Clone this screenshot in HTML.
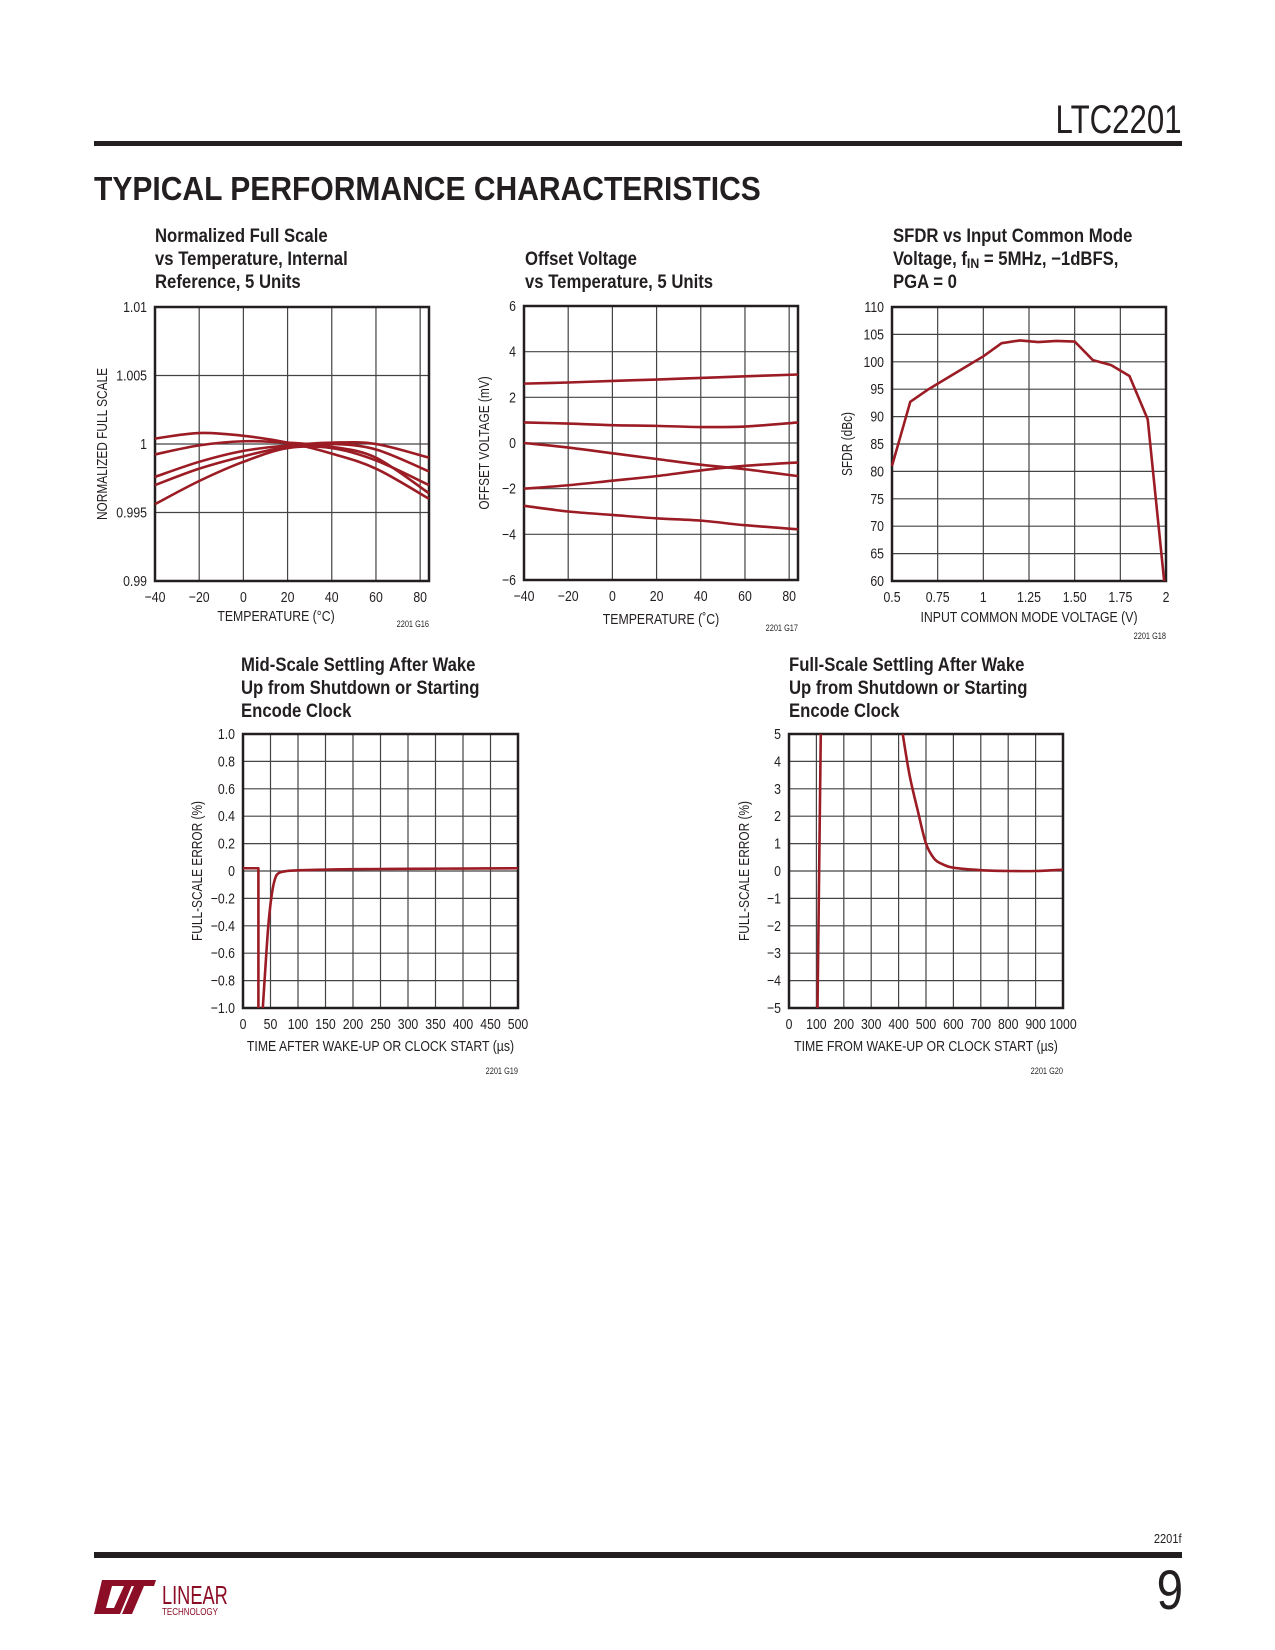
<!DOCTYPE html>
<html><head><meta charset="utf-8">
<style>
body{margin:0;background:#fff;}
#page{position:relative;width:1275px;height:1650px;overflow:hidden;background:#fff;font-family:"Liberation Sans",sans-serif;color:#231f20;}
.abs{position:absolute;}
</style></head>
<body>
<div id="page">
<div class="abs" style="right:93px;top:98px;font-size:40px;font-weight:normal;line-height:44px;transform:scaleX(0.78);transform-origin:right;">LTC2201</div>
<div class="abs" style="left:94px;top:141px;width:1088px;height:5px;background:#231f20;"></div>
<div class="abs" style="left:94px;top:172px;font-size:33px;font-weight:bold;line-height:34px;transform:scaleX(0.91);transform-origin:left;white-space:nowrap;">TYPICAL PERFORMANCE CHARACTERISTICS</div>
<svg id="charts" class="abs" style="left:0;top:0" width="1275" height="1300"></svg>
<div class="abs" style="right:93px;top:1531px;font-size:13px;transform:scaleX(0.85);transform-origin:right;">2201f</div>
<div class="abs" style="left:94px;top:1552px;width:1088px;height:6px;background:#231f20;"></div>
<div class="abs" style="right:92px;top:1560px;font-size:56px;line-height:60px;transform:scaleX(0.85);transform-origin:right;">9</div>
<div class="abs" style="left:94px;top:1578px;width:170px;height:40px;">
 <svg width="170" height="40"><polygon points="8,2 40,2 26,36 0,36" fill="#8b0d26"/><polygon points="18,8 30,8 20,30 12,30" fill="#fff"/><polygon points="34,2 62,2 60,8 50,8 38,36 28,36 40,8 32,8" fill="#8b0d26"/>
 <g transform="translate(68,26) scale(0.7,1)"><text x="0" y="0" font-family="Liberation Sans, sans-serif" font-size="26" fill="#8b0d26">LINEAR</text></g>
 <g transform="translate(68,37) scale(0.8,1)"><text x="0" y="0" font-family="Liberation Sans, sans-serif" font-size="10" fill="#8b0d26">TECHNOLOGY</text></g></svg>
</div>
</div>
<script>
// ---------- Data ----------
const c1X=[-40,-20,0,20,40,60,84];
const c1A=[1.0004,1.0008,1.0006,1.0001,0.9993,0.9982,0.9960];
const c1B=[0.99924,0.9999,1.0002,1.0001,0.9998,0.9990,0.9964];
const c1C=[0.9976,0.9987,0.9995,0.9999,1.0001,1.0000,0.9990];
const c1D=[0.9970,0.9982,0.9991,0.9998,1.0000,0.9996,0.9980];
const c1E=[0.99561,0.9973,0.9987,0.9997,0.9997,0.9988,0.9970];
const c1XTicks=[-40,-20,0,20,40,60,80];
const c1YTicks=[0.99,0.995,1,1.005,1.01];
const c1YLabels=["0.99","0.995","1","1.005","1.01"];

const c2X=[-40,-20,0,20,40,60,84];
const c2A=[2.6,2.65,2.72,2.78,2.85,2.92,3.0];
const c2B=[0.9,0.85,0.78,0.75,0.7,0.72,0.9];
const c2C=[0,-0.2,-0.45,-0.7,-0.95,-1.15,-1.45];
const c2D=[-2.0,-1.85,-1.65,-1.45,-1.2,-1.0,-0.85];
const c2E=[-2.75,-3.0,-3.15,-3.3,-3.4,-3.6,-3.78];
const c2XTicks=[-40,-20,0,20,40,60,80];
const c2YTicks=[-6,-4,-2,0,2,4,6];

const c3X=[0.5,0.6,0.7,0.8,0.9,1.0,1.1,1.2,1.3,1.4,1.5,1.6,1.7,1.8,1.9,1.99];
const c3Y=[81,92.7,95,97,99,101,103.4,103.9,103.6,103.8,103.7,100.3,99.4,97.4,89.5,60];
const c3XTicks=[0.5,0.75,1,1.25,1.5,1.75,2];
const c3XLabels=["0.5","0.75","1","1.25","1.50","1.75","2"];
const c3YTicks=[60,65,70,75,80,85,90,95,100,105,110];

const c4X1=[0,28,28];
const c4Y1=[0.02,0.02,-1];
const c4X2=[36,40,46,52,58,65,80,100,150,200,300,400,500];
const c4Y2=[-1,-0.75,-0.4,-0.18,-0.06,-0.015,0,0.005,0.01,0.013,0.016,0.018,0.02];
const c4XTicks=[0,50,100,150,200,250,300,350,400,450,500];
const c4YTicks=[-1,-0.8,-0.6,-0.4,-0.2,0,0.2,0.4,0.6,0.8,1];
const c4YLabels=["−1.0","−0.8","−0.6","−0.4","−0.2","0","0.2","0.4","0.6","0.8","1.0"];

const c5X1=[104,116];
const c5Y1=[-5,5];
const c5X2=[415,440,470,500,530,560,600,700,800,900,1000];
const c5Y2=[5,3.5,2.2,1,0.45,0.25,0.12,0.03,0,0,0.05];
const c5XTicks=[0,100,200,300,400,500,600,700,800,900,1000];
const c5YTicks=[-5,-4,-3,-2,-1,0,1,2,3,4,5];

// ---------- Rendering ----------
const NS="http://www.w3.org/2000/svg";
const svg=document.getElementById('charts');
const RED="#9b1c24";
function el(tag,attrs,parent){const e=document.createElementNS(NS,tag);for(const k in attrs)e.setAttribute(k,attrs[k]);(parent||svg).appendChild(e);return e;}
function txt(s,x,y,size,anchor,parent,weight,rot,sq){
  const w=el('g',{transform:'translate('+x+','+y+')'+(rot?' rotate(-90)':'')+' scale('+(sq||0.82)+',1)'},parent);
  const t=el('text',{x:0,y:0,'font-size':size,'text-anchor':anchor||'start','font-family':'Liberation Sans, sans-serif',fill:'#231f20','font-weight':weight||'normal'},w);
  t.textContent=s;return t;}
function fmt(v){return v<0?"−"+Math.abs(v):String(v);}
function smoothPath(pts){
  if(pts.length<3){return "M"+pts.map(p=>p.join(",")).join("L");}
  let d="M"+pts[0][0]+","+pts[0][1];
  for(let i=0;i<pts.length-1;i++){
    const p0=pts[i-1]||pts[i],p1=pts[i],p2=pts[i+1],p3=pts[i+2]||p2;
    const c1=[p1[0]+(p2[0]-p0[0])/6,p1[1]+(p2[1]-p0[1])/6];
    const c2=[p2[0]-(p3[0]-p1[0])/6,p2[1]-(p3[1]-p1[1])/6];
    d+="C"+c1.join(",")+" "+c2.join(",")+" "+p2.join(",");
  }
  return d;
}
function chart(cfg){
  const g=el('g',{});
  
  
  const sx=v=>cfg.L+(v-cfg.x0)/(cfg.x1-cfg.x0)*(cfg.R-cfg.L);
  const sy=v=>cfg.B-(v-cfg.y0)/(cfg.y1-cfg.y0)*(cfg.B-cfg.T);
  cfg.title.forEach((line,i)=>{
    const t=txt('',cfg.tx,cfg.ty+i*23,19,'start',g,'bold',false,0.88);
    
    
    if(typeof line==='string'){t.textContent=line;}else{line.forEach(seg=>{const s=el('tspan',{},t);s.textContent=seg[0];if(seg[1]){s.setAttribute('baseline-shift','-25%');s.setAttribute('font-size','14');}});}
  });
  cfg.xgrid.forEach(v=>{const l=el('line',{x1:sx(v),x2:sx(v),y1:cfg.T,y2:cfg.B,stroke:'#444','stroke-width':1.2},g);});
  cfg.ygrid.forEach(v=>{const l=el('line',{x1:cfg.L,x2:cfg.R,y1:sy(v),y2:sy(v),stroke:'#444','stroke-width':1.2},g);});
  const fr=el('rect',{x:cfg.L,y:cfg.T,width:cfg.R-cfg.L,height:cfg.B-cfg.T,fill:'none',stroke:'#231f20','stroke-width':2.5},g);
  
  cfg.xticks.forEach((v,i)=>{const t=txt(cfg.xlabels?cfg.xlabels[i]:fmt(v),sx(v),cfg.B+21,15,'middle',g);});
  cfg.yticks.forEach((v,i)=>{const t=txt(cfg.ylabels?cfg.ylabels[i]:fmt(v),cfg.L-8,sy(v)+5,15,'end',g);});
  const xl=txt(cfg.xtitle,(cfg.L+cfg.R)/2+(cfg.xtOff||0),cfg.xty,15,'middle',g);
  
  const yc=(cfg.T+cfg.B)/2;
  const yl=txt(cfg.ytitle,cfg.ytx,yc,14.5,'middle',g,'normal',true);
  
  const fn=txt(cfg.fig,cfg.R,cfg.fy,9,'end',g);
  
  cfg.series.forEach(s=>{
    const pts=s.x.map((v,i)=>[sx(v),sy(s.y[i])]);
    const p=el('path',{d:s.smooth?smoothPath(pts):"M"+pts.map(q=>q.join(",")).join("L"),fill:'none',stroke:RED,'stroke-width':2.6,'stroke-linejoin':'round'},g);
    
    
  });
}
chart({name:'chart-full-scale-vs-temp',L:155,R:429,T:307,B:581,x0:-40,x1:84,y0:0.99,y1:1.01,
 xgrid:c1XTicks,ygrid:c1YTicks,xticks:c1XTicks,yticks:c1YTicks,ylabels:c1YLabels,
 title:["Normalized Full Scale","vs Temperature, Internal","Reference, 5 Units"],tx:155,ty:242,
 xtitle:"TEMPERATURE (°C)",xty:621,xtOff:-16,ytitle:"NORMALIZED FULL SCALE",ytx:107,fig:"2201 G16",fy:627,
 series:[{name:'unit-1-curve',x:c1X,y:c1A,smooth:true},{name:'unit-2-curve',x:c1X,y:c1B,smooth:true},{name:'unit-3-curve',x:c1X,y:c1C,smooth:true},{name:'unit-4-curve',x:c1X,y:c1D,smooth:true},{name:'unit-5-curve',x:c1X,y:c1E,smooth:true}]});
chart({name:'chart-offset-vs-temp',L:524,R:798,T:306,B:580,x0:-40,x1:84,y0:-6,y1:6,
 xgrid:c2XTicks,ygrid:c2YTicks,xticks:c2XTicks,yticks:c2YTicks,
 title:["Offset Voltage","vs Temperature, 5 Units"],tx:525,ty:265,
 xtitle:"TEMPERATURE (˚C)",xty:624,xtOff:0,ytitle:"OFFSET VOLTAGE (mV)",ytx:489,fig:"2201 G17",fy:631,
 series:[{name:'unit-1-offset',x:c2X,y:c2A,smooth:true},{name:'unit-2-offset',x:c2X,y:c2B,smooth:true},{name:'unit-3-offset',x:c2X,y:c2C,smooth:true},{name:'unit-4-offset',x:c2X,y:c2D,smooth:true},{name:'unit-5-offset',x:c2X,y:c2E,smooth:true}]});
chart({name:'chart-sfdr-vs-common-mode',L:892,R:1166,T:307,B:581,x0:0.5,x1:2,y0:60,y1:110,
 xgrid:c3XTicks,ygrid:c3YTicks,xticks:c3XTicks,xlabels:c3XLabels,yticks:c3YTicks,
 title:["SFDR vs Input Common Mode",[["Voltage, f"],["IN",true],[" = 5MHz, −1dBFS,"]],"PGA = 0"],tx:893,ty:242,
 xtitle:"INPUT COMMON MODE VOLTAGE (V)",xty:622,xtOff:0,ytitle:"SFDR (dBc)",ytx:852,fig:"2201 G18",fy:639,
 series:[{name:'sfdr-line',x:c3X,y:c3Y,smooth:false}]});
chart({name:'chart-mid-scale-settling',L:243,R:518,T:734,B:1008,x0:0,x1:500,y0:-1,y1:1,
 xgrid:c4XTicks,ygrid:c4YTicks,xticks:c4XTicks,yticks:c4YTicks,ylabels:c4YLabels,
 title:["Mid-Scale Settling After Wake","Up from Shutdown or Starting","Encode Clock"],tx:241,ty:671,
 xtitle:"TIME AFTER WAKE-UP OR CLOCK START (µs)",xty:1051,xtOff:0,ytitle:"FULL-SCALE ERROR (%)",ytx:202,fig:"2201 G19",fy:1074,
 series:[{name:'pre-wake-trace',x:c4X1,y:c4Y1,smooth:false},{name:'settling-trace',x:c4X2,y:c4Y2,smooth:true}]});
chart({name:'chart-full-scale-settling',L:789,R:1063,T:734,B:1008,x0:0,x1:1000,y0:-5,y1:5,
 xgrid:c5XTicks,ygrid:c5YTicks,xticks:c5XTicks,yticks:c5YTicks,
 title:["Full-Scale Settling After Wake","Up from Shutdown or Starting","Encode Clock"],tx:789,ty:671,
 xtitle:"TIME FROM WAKE-UP OR CLOCK START (µs)",xty:1051,xtOff:0,ytitle:"FULL-SCALE ERROR (%)",ytx:749,fig:"2201 G20",fy:1074,
 series:[{name:'wake-edge-trace',x:c5X1,y:c5Y1,smooth:false},{name:'settling-trace',x:c5X2,y:c5Y2,smooth:true}]});
</script>
</body></html>
